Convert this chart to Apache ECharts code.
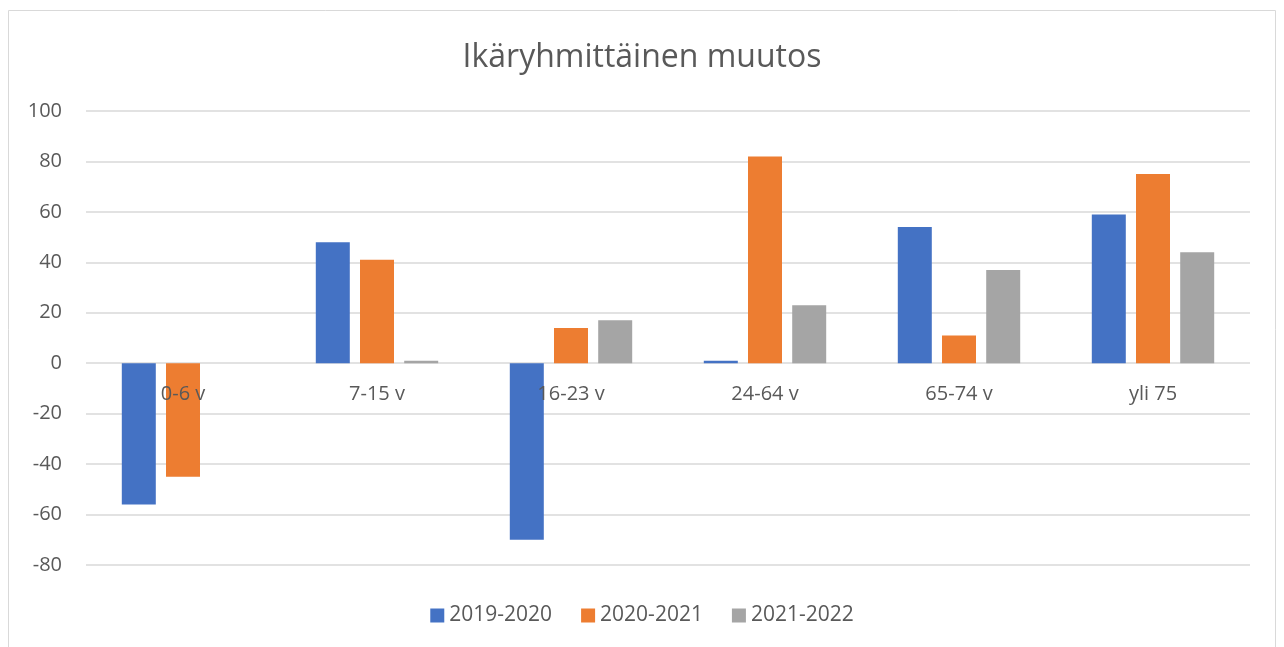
<!DOCTYPE html>
<html>
<head>
<meta charset="utf-8">
<script src="https://cdn.jsdelivr.net/npm/echarts@6/dist/echarts.min.js"></script>
<style>
html,body{margin:0;padding:0;background:#fff;}
#c{width:1284px;height:647px;}
</style>
</head>
<body>
<div id="c"></div>
<script>
const categories = ['0-6 v', '7-15 v', '16-23 v', '24-64 v', '65-74 v', 'yli 75'];
const seriesNames = ['2019-2020', '2020-2021', '2021-2022'];
const s2019_2020 = [-56, 48, -70, 1, 54, 59];
const s2020_2021 = [-45, 41, 14, 82, 11, 75];
const s2021_2022 = [0, 1, 17, 23, 37, 44];
const colors = ['#4472C4', '#ED7D31', '#A5A5A5'];
const font = '"Open Sans", "Noto Sans", sans-serif';

const chart = echarts.init(document.getElementById('c'));
const data = [s2019_2020, s2020_2021, s2021_2022];
chart.setOption({
  animation: false,
  color: colors,
  title: {
    text: 'Ikäryhmittäinen muutos',
    left: 'center',
    top: 37,
    textStyle: {color: '#595959', fontSize: 32, fontWeight: 'normal', fontFamily: font}
  },
  graphic: [{
    type: 'rect',
    shape: {x: 8.5, y: 10.5, width: 1267, height: 650},
    style: {fill: 'none', stroke: '#d9d9d9', lineWidth: 1},
    silent: true, z: -1
  }],
  legend: {
    data: seriesNames,
    bottom: 16,
    left: 'center',
    itemWidth: 14,
    itemHeight: 14,
    itemGap: 29,
    icon: 'rect',
    textStyle: {color: '#595959', fontSize: 21, fontFamily: font}
  },
  grid: {left: 86, right: 34, top: 111, bottom: 82},
  xAxis: {
    type: 'category',
    data: categories,
    z: 10,
    axisLine: {show: false},
    axisTick: {show: false},
    axisLabel: {color: '#595959', fontSize: 20, fontFamily: font, margin: -181}
  },
  yAxis: {
    type: 'value',
    min: -80, max: 100, interval: 20,
    axisLine: {show: false},
    axisTick: {show: false},
    axisLabel: {color: '#595959', fontSize: 20, fontFamily: font, margin: 24},
    splitLine: {lineStyle: {color: '#d9d9d9', width: 1.5}}
  },
  series: seriesNames.map((n, i) => ({
    name: n,
    type: 'bar',
    data: data[i],
    barWidth: 34,
    barGap: '30%',
    itemStyle: {color: colors[i]}
  }))
});
</script>
</body>
</html>
